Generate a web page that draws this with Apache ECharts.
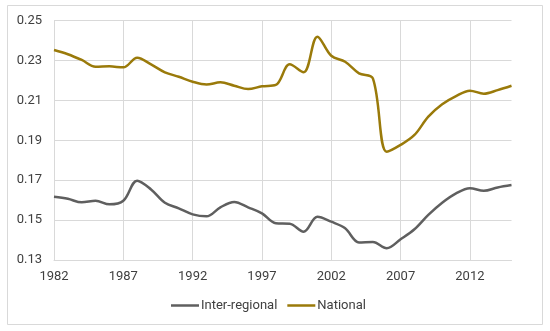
<!DOCTYPE html>
<html>
<head>
<meta charset="utf-8">
<script src="https://cdn.jsdelivr.net/npm/echarts@6/dist/echarts.min.js"></script>
<style>
html,body{margin:0;padding:0;background:#fff;}
#chart{width:550px;height:331px;}
</style>
</head>
<body>
<div id="chart"></div>
<script>
var years = [];
for (var y = 1982; y <= 2015; y++) years.push(String(y));

var interRegional = [0.1617,0.1607,0.1589,0.1597,0.1579,0.1597,0.1698,0.1654,0.1587,0.1559,0.1529,0.1519,
  0.1564,0.1591,0.1564,0.1534,0.1484,0.1482,0.1442,0.1517,0.1492,0.1459,0.1388,0.1390,
  0.1359,0.1404,0.1454,0.1526,0.1587,0.1634,0.1660,0.1647,0.1664,0.1676];

var national = [0.2353,0.2332,0.2303,0.2269,0.2271,0.2266,0.2314,0.2281,0.2241,0.2219,0.2194,0.2180,
  0.2191,0.2174,0.2157,0.2171,0.2178,0.2281,0.2241,0.2420,0.2324,0.2294,0.2236,0.2211,
  0.1843,0.1877,0.1927,0.2019,0.2081,0.2122,0.2149,0.2134,0.2152,0.2174];

var yTicks = [0.13, 0.15, 0.17, 0.19, 0.21, 0.23, 0.25];

var chart = echarts.init(document.getElementById('chart'), null, {renderer: 'canvas'});
var font = 'Roboto';
chart.setOption({
  animation: false,
  backgroundColor: '#fff',
  graphic: [{
    type: 'rect',
    shape: {x: 7.5, y: 5.5, width: 535, height: 319},
    style: {fill: 'none', stroke: '#d9d9d9', lineWidth: 1},
    silent: true
  }],
  grid: {left: 54, right: 38.5, top: 20.7, bottom: 71},
  legend: {
    bottom: 19,
    left: 171,
    padding: 0,
    itemWidth: 28,
    itemHeight: 2.5,
    itemGap: 10,
    textStyle: {fontFamily: font, fontSize: 13, color: '#404040', padding: [0, 0, 0, -3]},
    data: [
      {name: 'Inter-regional', icon: 'rect'},
      {name: 'National', icon: 'rect'}
    ]
  },
  xAxis: {
    type: 'category',
    data: years,
    boundaryGap: false,
    axisLine: {show: true, lineStyle: {color: '#d9d9d9'}},
    axisTick: {show: false},
    axisLabel: {interval: 4, fontFamily: font, fontSize: 13, color: '#404040', margin: 10},
    splitLine: {show: true, interval: 4, lineStyle: {color: '#d9d9d9', width: 1}}
  },
  yAxis: {
    type: 'value',
    min: yTicks[0],
    max: yTicks[yTicks.length - 1],
    interval: 0.02,
    axisLine: {show: true, lineStyle: {color: '#d9d9d9'}},
    axisTick: {show: false},
    axisLabel: {fontFamily: font, fontSize: 13, color: '#404040', margin: 12,
      formatter: function (v) { return v.toFixed(2); }},
    splitLine: {show: true, lineStyle: {color: '#d9d9d9', width: 1}}
  },
  series: [
    {
      name: 'Inter-regional',
      type: 'line',
      data: interRegional,
      smooth: 0.35,
      symbol: 'none',
      lineStyle: {color: '#5f5f5f', width: 2.5},
      itemStyle: {color: '#5f5f5f'}
    },
    {
      name: 'National',
      type: 'line',
      data: national,
      smooth: 0.35,
      symbol: 'none',
      lineStyle: {color: '#9a7a0a', width: 2.5},
      itemStyle: {color: '#9a7a0a'}
    }
  ]
});
</script>
</body>
</html>
